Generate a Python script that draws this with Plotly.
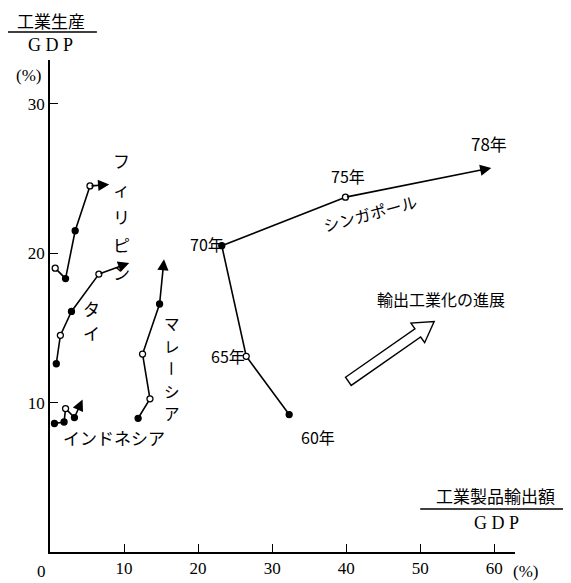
import plotly.graph_objects as go
import math

# ---- data (x: 工業製品輸出額/GDP %, y: 工業生産/GDP %) ----
phil_x = [0.7, 2.1, 3.4, 5.4]
phil_y = [19.0, 18.3, 21.5, 24.5]
phil_tip = (8.0, 24.6)

thai_x = [0.85, 1.4, 2.9, 6.6]
thai_y = [12.6, 14.5, 16.1, 18.6]
thai_tip = (10.7, 19.35)

mala_x = [11.9, 13.5, 12.5, 14.8]
mala_y = [8.95, 10.25, 13.25, 16.6]
mala_tip = (15.4, 19.6)

indo_x = [0.6, 1.9, 2.1, 3.3]
indo_y = [8.6, 8.7, 9.6, 9.0]
indo_tip = (4.4, 10.2)

sing_x = [32.3, 26.5, 23.2, 39.9]
sing_y = [9.2, 13.1, 20.5, 23.75]
sing_tip = (59.6, 25.7)
sing_years = ["60年", "65年", "70年", "75年", "78年"]

x_ticks = [10, 20, 30, 40, 50, 60]
y_ticks = [10, 20, 30]

# ---- layout geometry ----
W, H = 571, 583
L, R, T, B = 41.5, 63.5, 51.5, 38.5
XMAX, YMAX = 62.8, 32.93
pw, ph = W - L - R, H - T - B

OFF = 7.5  # page offset seen in the rendered photo
def cx(px):  # reference pixel -> layout pixel
    return px - OFF
def cy(py):
    return py - OFF
def pxp(px):  # reference pixel -> paper
    return (cx(px) - L) / pw
def pyp(py):
    return (H - B - cy(py)) / ph
def dx(px):  # reference pixel -> data
    return pxp(px) * XMAX
def dy(py):
    return pyp(py) * YMAX

JP = "Noto Sans CJK JP"
SERIF = "Liberation Serif, Times New Roman, DejaVu Serif, serif"

fig = go.Figure()

def series(xs, ys, fills):
    fig.add_trace(go.Scatter(
        x=xs, y=ys, mode="lines+markers",
        line=dict(color="black", width=1.6),
        marker=dict(size=6, color=fills, line=dict(color="black", width=1.3)),
        showlegend=False, hoverinfo="skip"))

series(phil_x, phil_y, ["white", "black", "black", "white"])
series(thai_x, thai_y, ["black", "white", "black", "white"])
series(mala_x, mala_y, ["black", "white", "white", "black"])
series(indo_x, indo_y, ["black", "black", "white", "black"])
series(sing_x, sing_y, ["black", "white", "black", "white"])

ann = []
for xs, ys, tip in [(phil_x, phil_y, phil_tip), (thai_x, thai_y, thai_tip),
                    (mala_x, mala_y, mala_tip), (indo_x, indo_y, indo_tip),
                    (sing_x, sing_y, sing_tip)]:
    ann.append(dict(x=tip[0], y=tip[1], ax=xs[-1], ay=ys[-1], xref="x", yref="y",
                    axref="x", ayref="y", text="", showarrow=True, arrowhead=2,
                    arrowsize=1.4, arrowwidth=1.6, arrowcolor="black", standoff=0,
                    startstandoff=0))

def text(px, py, s, size=16, font=JP, angle=0):
    ann.append(dict(x=pxp(px), y=pyp(py), xref="paper", yref="paper", text=s,
                    showarrow=False, font=dict(family=font, size=size, color="black"),
                    textangle=angle, xanchor="center", yanchor="middle"))

def vtext(px, py0, s, step, size=16, rot=()):
    for i, ch in enumerate(s):
        text(px, py0 + i * step, ch, size=size, angle=90 if i in rot else 0)

# country labels
vtext(121, 160, "フィリピン", 28, size=17)
vtext(91, 308, "タイ", 24, size=17)
vtext(171, 323, "マレーシア", 22.5, size=15.5, rot=(2,))
text(113, 437, "インドネシア", size=17)
text(370, 212, "シンガポール", size=16, angle=-15)

# year labels (Singapore)
text(318, 437, sing_years[0], size=16)
text(227, 356, sing_years[1], size=16)
text(206, 243, sing_years[2], size=16)
text(348, 175, sing_years[3], size=16)
text(489, 143, sing_years[4], size=17)

text(441, 298, "輸出工業化の進展", size=16)

# axis titles
text(50, 19, "工業生産", size=17)
text(50, 44, "G D P", size=18, font=SERIF)
text(27, 75, "(%)", size=17, font=SERIF)
text(495, 495, "工業製品輸出額", size=17)
text(496, 523, "G D P", size=18, font=SERIF)
text(40, 572, "0", size=17, font=SERIF)
text(526, 572, "(%)", size=17, font=SERIF)

shapes = [
    dict(type="line", xref="paper", yref="paper", x0=pxp(4), x1=pxp(96),
         y0=pyp(31), y1=pyp(31), line=dict(color="black", width=1.5)),
    dict(type="line", xref="paper", yref="paper", x0=pxp(420), x1=pxp(575),
         y0=pyp(509), y1=pyp(509), line=dict(color="black", width=1.5)),
]

# hollow arrow (進展) built in reference pixel space, converted to data coords
tx, ty = 348, 381
hx, hy = 434, 321
ang = math.atan2(hy - ty, hx - tx)
ux, uy = math.cos(ang), math.sin(ang)
nx, ny = -uy, ux
ln = math.hypot(hx - tx, hy - ty)
hl, sw, hw = 20, 5, 12
pts = [(0, -sw), (ln - hl, -sw), (ln - hl, -hw), (ln, 0), (ln - hl, hw), (ln - hl, sw), (0, sw)]
path = ""
for i, (a, b) in enumerate(pts):
    px = tx + a * ux + b * nx
    py = ty + a * uy + b * ny
    path += ("M" if i == 0 else "L") + f"{dx(px):.4f},{dy(py):.4f} "
path += "Z"
shapes.append(dict(type="path", xref="x", yref="y", path=path,
                   line=dict(color="black", width=1.4), fillcolor="white"))

fig.update_layout(
    width=W, height=H, margin=dict(l=L, r=R, t=T, b=B),
    plot_bgcolor="white", paper_bgcolor="white",
    annotations=ann, shapes=shapes,
    xaxis=dict(range=[0, XMAX], tickvals=x_ticks, ticks="inside", ticklen=8,
               tickwidth=1.4, tickcolor="black", showline=True, linecolor="black",
               linewidth=1.6, showgrid=False, zeroline=False, automargin=False,
               tickfont=dict(family=SERIF, size=17, color="black")),
    yaxis=dict(range=[0, YMAX], tickvals=y_ticks, ticks="inside", ticklen=8,
               tickwidth=1.4, tickcolor="black", showline=True, linecolor="black",
               linewidth=1.6, showgrid=False, zeroline=False, automargin=False,
               tickfont=dict(family=SERIF, size=17, color="black")),
)

fig.write_html("out.html")
